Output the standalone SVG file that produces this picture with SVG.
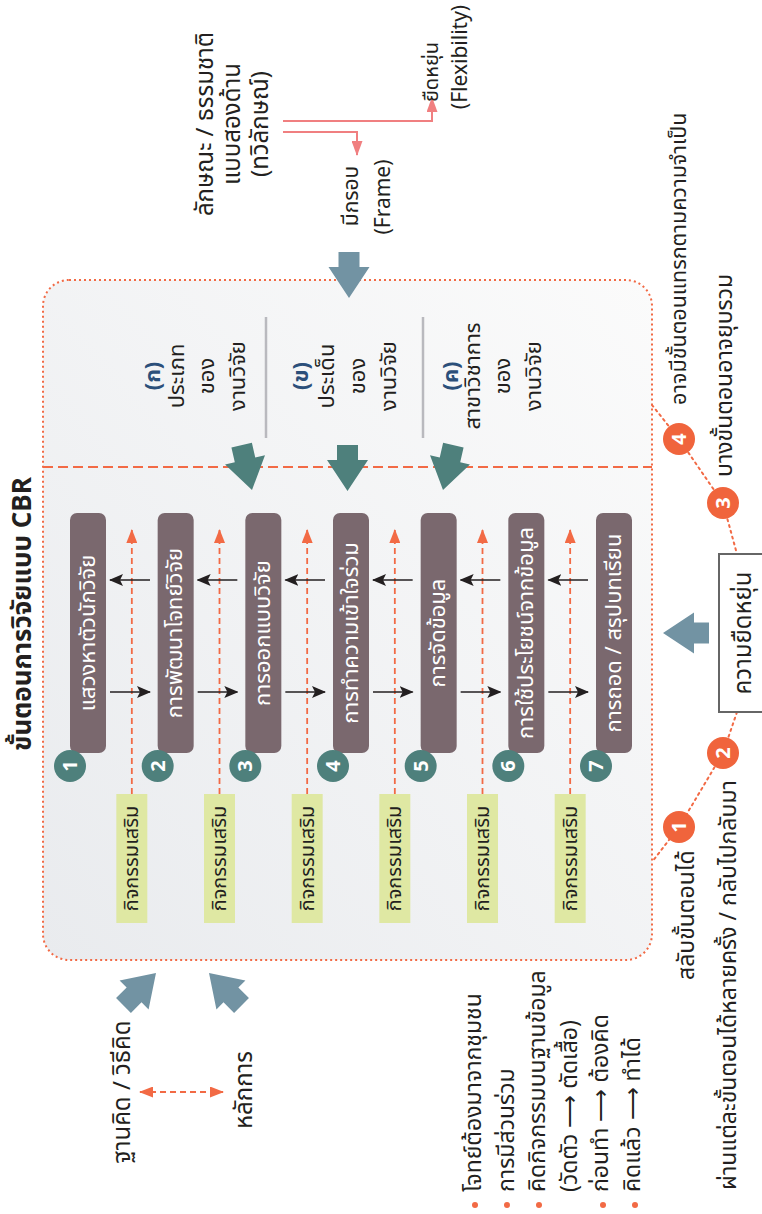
<svg xmlns="http://www.w3.org/2000/svg" width="762" height="1214" viewBox="0 0 762 1214">
<defs>
<style>
text{font-family:'Noto Sans Thai','Noto Sans',sans-serif;fill:#231f20;}
.ttl{font-size:26px;font-weight:bold;text-anchor:middle;}
.step{font-size:22px;fill:#fff;text-anchor:middle;}
.num{font-size:20px;font-weight:bold;fill:#fff;text-anchor:middle;}
.act{font-size:20px;text-anchor:middle;}
.cat{font-size:22px;text-anchor:middle;}
.catk{fill:#2b4f7a;font-weight:bold;}
.lbl{font-size:23px;}
.sm{font-size:21px;}
.big{font-size:24px;}
.mid{text-anchor:middle;}
.stepbox{fill:#7a686e;}
.tealc{fill:#4e807c;}
.orc{fill:#f0643c;}
.green{fill:#dfe8a3;}
.blk{stroke:#231f20;stroke-width:1.6;fill:none;marker-end:url(#mb);}
.odash{stroke:#f26a45;stroke-width:1.8;stroke-dasharray:6 4;fill:none;marker-end:url(#mo);}
.pink{stroke:#f07f80;stroke-width:2;fill:none;marker-end:url(#mp);}
.slate{fill:#7293a3;}
.teal{fill:#4e807c;}
.dot{fill:#f26a45;}
</style>
<marker id="mb" markerUnits="userSpaceOnUse" markerWidth="14" markerHeight="12" viewBox="0 0 14 12" refX="13" refY="6" orient="auto"><path d="M0,0 L14,6 L0,12 L3,6 Z" fill="#231f20"/></marker>
<marker id="mo" markerUnits="userSpaceOnUse" markerWidth="14" markerHeight="11" viewBox="0 0 14 11" refX="13" refY="5.5" orient="auto"><path d="M0,0 L14,5.5 L0,11 Z" fill="#f26a45"/></marker>
<marker id="mo2" markerUnits="userSpaceOnUse" markerWidth="14" markerHeight="11" viewBox="0 0 14 11" refX="13" refY="5.5" orient="auto-start-reverse"><path d="M0,0 L14,5.5 L0,11 Z" fill="#f26a45"/></marker>
<marker id="mp" markerUnits="userSpaceOnUse" markerWidth="15" markerHeight="11" viewBox="0 0 15 11" refX="14" refY="5.5" orient="auto"><path d="M0,0 L15,5.5 L0,11 Z" fill="#f07f80"/></marker>
<path id="ba" d="M-10.5,-46 H10.5 V-31 H20.5 L0,0 L-20.5,-31 H-10.5 Z"/>
<linearGradient id="bg" x1="0" y1="1" x2="1" y2="0">
<stop offset="0" stop-color="#e9ebee"/>
<stop offset="1" stop-color="#fbfbfb"/>
</linearGradient>
</defs>
<rect width="762" height="1214" fill="#fff"/>

<g id="frame">
<rect x="43" y="280" width="609" height="680" rx="26" fill="url(#bg)" stroke="#f26a45" stroke-width="2" stroke-dasharray="2 3"/>
<line x1="43" y1="467" x2="652" y2="467" stroke="#f26a45" stroke-width="2" stroke-dasharray="10 5"/>
<line x1="266" y1="317" x2="266" y2="438" stroke="#b9b9be" stroke-width="2.5"/>
<line x1="423" y1="317" x2="423" y2="438" stroke="#b9b9be" stroke-width="2.5"/>
</g>

<g id="title"><text class="ttl" transform="translate(31,614) rotate(-90)">ขั้นตอนการวิจัยแบบ CBR</text></g>

<g id="connectors">
<path class="odash" d="M131.83,794 V530"/>
<path class="odash" d="M219.5,794 V530"/>
<path class="odash" d="M307.17,794 V530"/>
<path class="odash" d="M394.83,794 V530"/>
<path class="odash" d="M482.5,794 V530"/>
<path class="odash" d="M570.17,794 V530"/>
<path class="blk" d="M110,692 H150"/>
<path class="blk" d="M150,580 H110"/>
<path class="blk" d="M197.67,692 H237.33"/>
<path class="blk" d="M237.33,580 H197.67"/>
<path class="blk" d="M285.33,692 H325"/>
<path class="blk" d="M325,580 H285.33"/>
<path class="blk" d="M373,692 H412.67"/>
<path class="blk" d="M412.67,580 H373"/>
<path class="blk" d="M460.67,692 H500.33"/>
<path class="blk" d="M500.33,580 H460.67"/>
<path class="blk" d="M548.33,692 H588"/>
<path class="blk" d="M588,580 H548.33"/>
<path class="pink" d="M283,121 H432 V98"/>
<path class="pink" d="M283,132 H357 V155"/>
<path d="M140,1092 H223" stroke="#f26a45" stroke-width="1.8" stroke-dasharray="6 4" fill="none" marker-start="url(#mo2)" marker-end="url(#mo2)"/>
<path d="M652,405 L679,439 L723,503 L737,554 M737,712 L723,753 L679,827 L652,862" stroke="#f26a45" stroke-width="2" stroke-dasharray="2 4" stroke-linecap="round" fill="none"/>
<use href="#ba" class="slate" transform="translate(349,298)"/>
<use href="#ba" class="slate" transform="translate(663,633) rotate(90)"/>
<use href="#ba" class="slate" transform="translate(156,973) rotate(-135)"/>
<use href="#ba" class="slate" transform="translate(209,973) rotate(135)"/>
<use href="#ba" class="teal" transform="translate(252,490) rotate(-13)"/>
<use href="#ba" class="teal" transform="translate(347.5,491)"/>
<use href="#ba" class="teal" transform="translate(443,490) rotate(13)"/>
</g>

<g id="cat-a">
<text class="cat catk" transform="translate(160,376) rotate(-90)">(ก)</text>
<text class="cat" transform="translate(184,376) rotate(-90)">ประเภท</text>
<text class="cat" transform="translate(214,376) rotate(-90)">ของ</text>
<text class="cat" transform="translate(245,376) rotate(-90)">งานวิจัย</text>
</g>
<g id="cat-b">
<text class="cat catk" transform="translate(308,376) rotate(-90)">(ข)</text>
<text class="cat" transform="translate(334,376) rotate(-90)">ประเด็น</text>
<text class="cat" transform="translate(365,376) rotate(-90)">ของ</text>
<text class="cat" transform="translate(396,376) rotate(-90)">งานวิจัย</text>
</g>
<g id="cat-c">
<text class="cat catk" transform="translate(458,376) rotate(-90)">(ค)</text>
<text class="cat" transform="translate(480,376) rotate(-90)">สาขาวิชาการ</text>
<text class="cat" transform="translate(510,376) rotate(-90)">ของ</text>
<text class="cat" transform="translate(541,376) rotate(-90)">งานวิจัย</text>
</g>

<g id="step1"><rect class="stepbox" x="70" y="513" width="36" height="240" rx="7"/><text class="step" transform="translate(94.5,633) rotate(-90)">แสวงหาตัวนักวิจัย</text><circle class="tealc" cx="70" cy="766" r="16"/><text class="num" transform="translate(77,766) rotate(-90)">1</text></g>
<g id="step2"><rect class="stepbox" x="157.67" y="513" width="36" height="240" rx="7"/><text class="step" transform="translate(182.17,633) rotate(-90)">การพัฒนาโจทย์วิจัย</text><circle class="tealc" cx="157.67" cy="766" r="16"/><text class="num" transform="translate(164.67,766) rotate(-90)">2</text></g>
<g id="step3"><rect class="stepbox" x="245.33" y="513" width="36" height="240" rx="7"/><text class="step" transform="translate(269.83,633) rotate(-90)">การออกแบบวิจัย</text><circle class="tealc" cx="245.33" cy="766" r="16"/><text class="num" transform="translate(252.33,766) rotate(-90)">3</text></g>
<g id="step4"><rect class="stepbox" x="333" y="513" width="36" height="240" rx="7"/><text class="step" transform="translate(357.5,633) rotate(-90)">การทำความเข้าใจร่วม</text><circle class="tealc" cx="333" cy="766" r="16"/><text class="num" transform="translate(340,766) rotate(-90)">4</text></g>
<g id="step5"><rect class="stepbox" x="420.67" y="513" width="36" height="240" rx="7"/><text class="step" transform="translate(445.17,633) rotate(-90)">การจัดข้อมูล</text><circle class="tealc" cx="420.67" cy="766" r="16"/><text class="num" transform="translate(427.67,766) rotate(-90)">5</text></g>
<g id="step6"><rect class="stepbox" x="508.33" y="513" width="36" height="240" rx="7"/><text class="step" transform="translate(532.83,633) rotate(-90)">การใช้ประโยชน์จากข้อมูล</text><circle class="tealc" cx="508.33" cy="766" r="16"/><text class="num" transform="translate(515.33,766) rotate(-90)">6</text></g>
<g id="step7"><rect class="stepbox" x="596" y="513" width="36" height="240" rx="7"/><text class="step" transform="translate(620.5,633) rotate(-90)">การถอด / สรุปบทเรียน</text><circle class="tealc" cx="596" cy="766" r="16"/><text class="num" transform="translate(603,766) rotate(-90)">7</text></g>

<g id="act1"><rect class="green" x="116.33" y="794" width="31" height="129"/><text class="act" transform="translate(138.33,858.5) rotate(-90)">กิจกรรมเสริม</text></g>
<g id="act2"><rect class="green" x="204" y="794" width="31" height="129"/><text class="act" transform="translate(226,858.5) rotate(-90)">กิจกรรมเสริม</text></g>
<g id="act3"><rect class="green" x="291.67" y="794" width="31" height="129"/><text class="act" transform="translate(313.67,858.5) rotate(-90)">กิจกรรมเสริม</text></g>
<g id="act4"><rect class="green" x="379.33" y="794" width="31" height="129"/><text class="act" transform="translate(401.33,858.5) rotate(-90)">กิจกรรมเสริม</text></g>
<g id="act5"><rect class="green" x="467" y="794" width="31" height="129"/><text class="act" transform="translate(489,858.5) rotate(-90)">กิจกรรมเสริม</text></g>
<g id="act6"><rect class="green" x="554.67" y="794" width="31" height="129"/><text class="act" transform="translate(576.67,858.5) rotate(-90)">กิจกรรมเสริม</text></g>

<g id="nature">
<text class="big mid" transform="translate(213,124) rotate(-90)">ลักษณะ / ธรรมชาติ</text>
<text class="big mid" transform="translate(240,124) rotate(-90)">แบบสองด้าน</text>
<text class="big mid" transform="translate(268,124) rotate(-90)">(ทวิลักษณ์)</text>
</g>
<g id="frame-label">
<text class="sm mid" transform="translate(358,196) rotate(-90)">มีกรอบ</text>
<text class="sm mid" transform="translate(390,197) rotate(-90)">(Frame)</text>
</g>
<g id="flex-label">
<text class="sm mid" style="font-size:20px" transform="translate(438,72) rotate(-90)">ยืดหยุ่น</text>
<text class="sm mid" transform="translate(467,57) rotate(-90)">(Flexibility)</text>
</g>

<g id="flexbox">
<rect x="719" y="554" width="60" height="158" fill="#fff" stroke="#666" stroke-width="2"/>
<text class="big mid" transform="translate(751,633) rotate(-90)">ความยืดหยุ่น</text>
</g>
<g id="r4"><circle class="orc" cx="679" cy="439" r="16"/><text class="num" transform="translate(686,439) rotate(-90)">4</text></g>
<g id="r3"><circle class="orc" cx="723" cy="503" r="16"/><text class="num" transform="translate(730,503) rotate(-90)">3</text></g>
<g id="r2"><circle class="orc" cx="723" cy="753" r="16"/><text class="num" transform="translate(730,753) rotate(-90)">2</text></g>
<g id="r1"><circle class="orc" cx="679" cy="827" r="16"/><text class="num" transform="translate(686,827) rotate(-90)">1</text></g>
<g id="r-texts">
<text class="lbl" style="font-size:21.5px" transform="translate(686,405) rotate(-90)">อาจมีขั้นตอนแทรกตามความจำเป็น</text>
<text class="lbl" transform="translate(732,477) rotate(-90)">บางขั้นตอนอาจยุบรวม</text>
<text class="lbl" transform="translate(736,1190) rotate(-90)">ผ่านแต่ละขั้นตอนได้หลายครั้ง / กลับไปกลับมา</text>
<text class="lbl" transform="translate(694,980) rotate(-90)">สลับขั้นตอนได้</text>
</g>

<g id="basis">
<text class="big mid" transform="translate(130,1092) rotate(-90)">ฐานคิด / วิธีคิด</text>
<text class="big mid" transform="translate(252,1090) rotate(-90)">หลักการ</text>
</g>

<g id="bullets">
<circle class="dot" cx="475" cy="1205" r="3"/>
<circle class="dot" cx="507" cy="1205" r="3"/>
<circle class="dot" cx="539" cy="1205" r="3"/>
<circle class="dot" cx="603" cy="1205" r="3"/>
<circle class="dot" cx="635" cy="1205" r="3"/>
<text class="lbl" transform="translate(481,1192) rotate(-90)">โจทย์ต้องมาจากชุมชน</text>
<text class="lbl" transform="translate(514,1192) rotate(-90)">การมีส่วนร่วม</text>
<text class="lbl" transform="translate(545,1192) rotate(-90)">คิดกิจกรรมบนฐานข้อมูล</text>
<text class="lbl" transform="translate(577,1192) rotate(-90)">(วัดตัว ⟶ ตัดเสื้อ)</text>
<text class="lbl" transform="translate(608,1192) rotate(-90)">ก่อนทำ ⟶ ต้องคิด</text>
<text class="lbl" transform="translate(640,1192) rotate(-90)">คิดแล้ว ⟶ ทำได้</text>
</g>
</svg>
